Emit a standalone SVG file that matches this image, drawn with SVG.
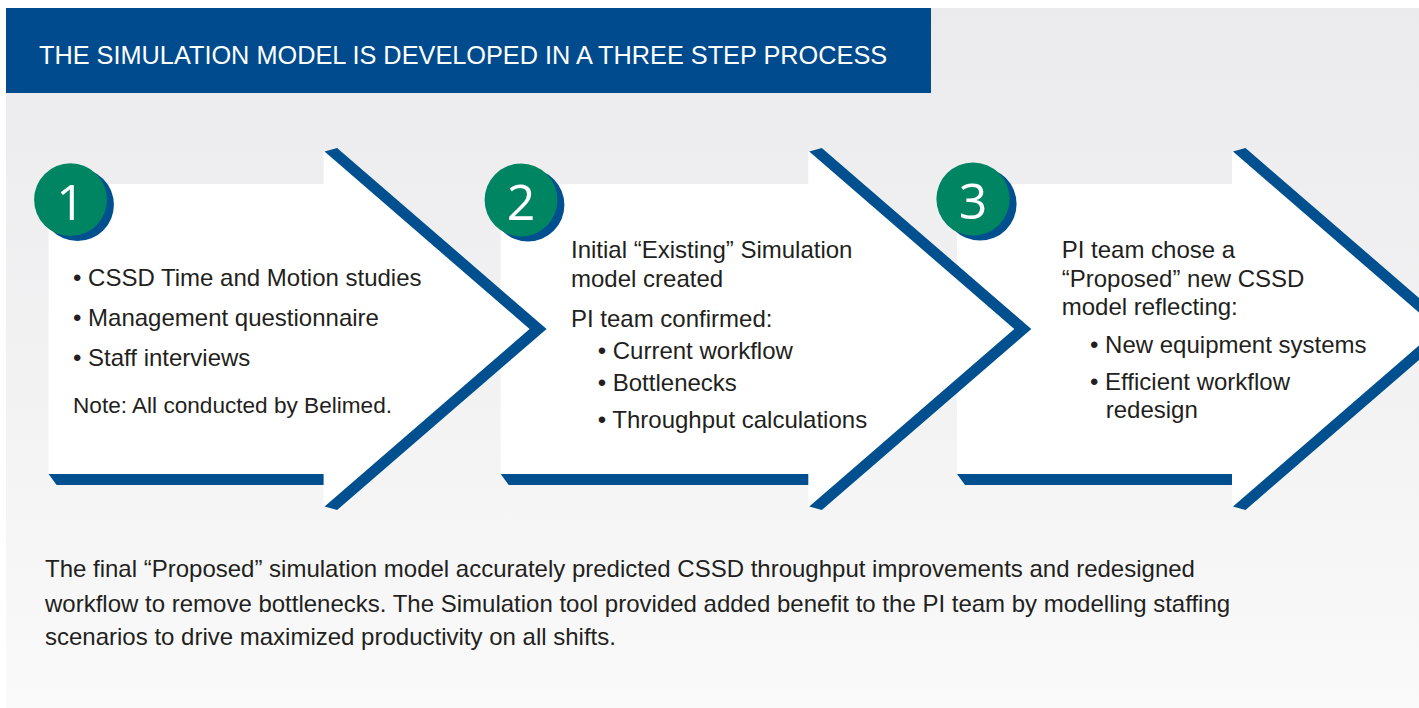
<svg xmlns="http://www.w3.org/2000/svg" width="1419" height="708" viewBox="0 0 1419 708">
<defs>
<linearGradient id="bg" x1="0" y1="0" x2="0" y2="1">
<stop offset="0" stop-color="#EBEBED"/>
<stop offset="0.6" stop-color="#F3F3F4"/>
<stop offset="1" stop-color="#FAFAFA"/>
</linearGradient>
<style>
.white{fill:#FFFFFF}
.blue{fill:#00508F}
.green{fill:#008562}
.t{font-family:"Liberation Sans",Arial,Helvetica,sans-serif;font-size:24px;fill:#231F20}
.note{font-size:22.6px}
.num{font-family:"Open Sans","Noto Sans",sans-serif;font-size:50px;fill:#FFFFFF;text-anchor:middle}
.hdr{font-family:"Liberation Sans",Arial,Helvetica,sans-serif;font-size:25.3px;fill:#FFFFFF}
</style>
</defs>
<rect x="0" y="0" width="1419" height="708" fill="#FFFFFF"/>
<rect x="6" y="8" width="1413" height="700" fill="url(#bg)"/>
<g id="header">
<rect x="6" y="8" width="925" height="85" fill="#004B8D"/>
<text class="hdr" x="39" y="64">THE SIMULATION MODEL IS DEVELOPED IN A THREE STEP PROCESS</text>
</g>
<g id="connectors"></g>
<g id="step3">
<polygon class="white" points="957,184 1232,184 1232,151 1438,329 1232,507 1232,474 957,474"/>
<polygon class="blue" points="957,474 1232,474 1232,485 965,485"/>
<polygon class="blue" points="1233,151.5 1245.5,148 1455,329 1245.5,510 1233,506.5 1438,329"/>
<circle class="blue" cx="980" cy="204" r="36.6"/>
<circle class="green" cx="973" cy="199" r="36.6"/>
<text class="num" x="973" y="219">3</text>
<text class="t" x="1061.7" y="257.7">PI team chose a</text>
<text class="t" x="1061.7" y="286.7">“Proposed” new CSSD</text>
<text class="t" x="1061.7" y="315">model reflecting:</text>
<text class="t" x="1090" y="352.7">• New equipment systems</text>
<text class="t" x="1090" y="390">• Efficient workflow</text>
<text class="t" x="1105.7" y="418">redesign</text>
</g>
<g id="step2">
<polygon class="white" points="500.7,184 808.3,184 808.3,151 1014.3,329 808.3,507 808.3,474 500.7,474"/>
<polygon class="blue" points="500.7,474 808.3,474 808.3,485 508.7,485"/>
<polygon class="blue" points="809.3,151.5 821.8,148 1031.3,329 821.8,510 809.3,506.5 1014.3,329"/>
<circle class="blue" cx="528" cy="205" r="36.4"/>
<circle class="green" cx="521" cy="200" r="36.4"/>
<text class="num" x="521" y="220">2</text>
<text class="t" x="571" y="257.7">Initial “Existing” Simulation</text>
<text class="t" x="571" y="286.7">model created</text>
<text class="t" x="571" y="326.7">PI team confirmed:</text>
<text class="t" x="597.7" y="359">• Current workflow</text>
<text class="t" x="597.7" y="391">• Bottlenecks</text>
<text class="t" x="597.7" y="427.7">• Throughput calculations</text>
</g>
<g id="step1">
<polygon class="white" points="48.6,184 323.6,184 323.6,151 529.6,329 323.6,507 323.6,474 48.6,474"/>
<polygon class="blue" points="48.6,474 323.6,474 323.6,485 56.6,485"/>
<polygon class="blue" points="324.6,151.5 337.1,148 546.6,329 337.1,510 324.6,506.5 529.6,329"/>
<circle class="blue" cx="77.5" cy="204.7" r="36.4"/>
<circle class="green" cx="70.5" cy="199.7" r="36.4"/>
<text class="num" x="70.5" y="220">1</text>
<text class="t" x="73" y="286">• CSSD Time and Motion studies</text>
<text class="t" x="73" y="326">• Management questionnaire</text>
<text class="t" x="73" y="366">• Staff interviews</text>
<text class="t note" x="73" y="413">Note: All conducted by Belimed.</text>
</g>
<g id="summary">
<text class="t" x="45" y="576.7">The final “Proposed” simulation model accurately predicted CSSD throughput improvements and redesigned</text>
<text class="t" x="45" y="611.7">workflow to remove bottlenecks. The Simulation tool provided added benefit to the PI team by modelling staffing</text>
<text class="t" x="45" y="645">scenarios to drive maximized productivity on all shifts.</text>
</g>
</svg>
